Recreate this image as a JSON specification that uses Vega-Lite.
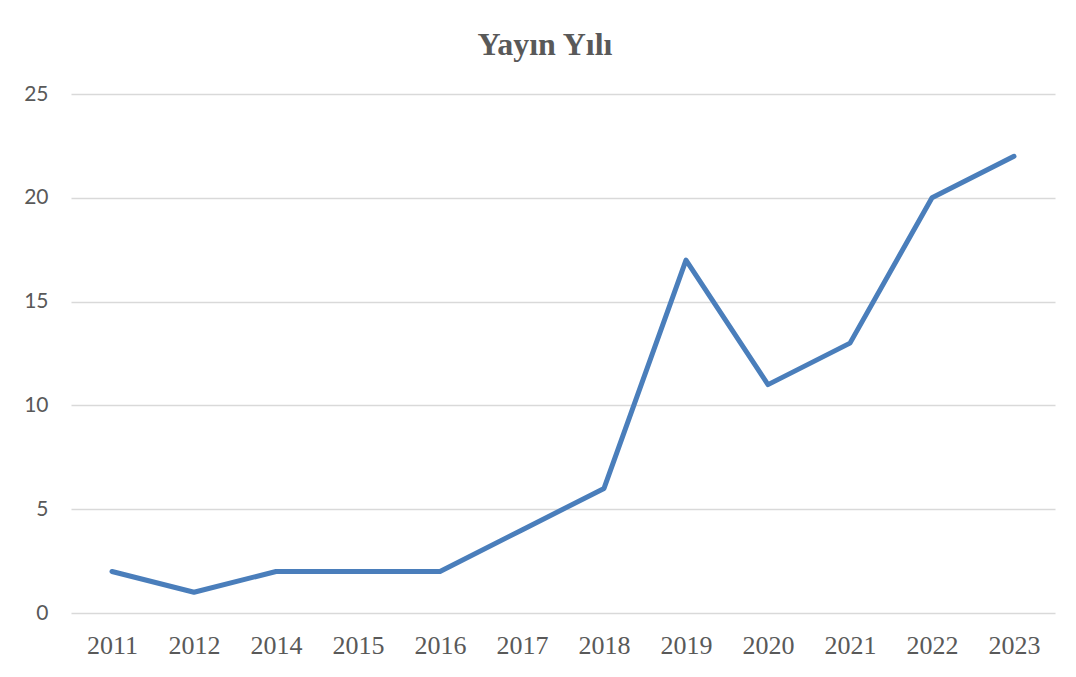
{
  "$schema": "https://vega.github.io/schema/vega-lite/v6.json",
  "autosize": {"type": "none"},
  "width": 984,
  "height": 519,
  "padding": {"left": 71, "top": 94, "right": 21, "bottom": 64},
  "background": "white",
  "title": {
    "text": "Yayın Yılı",
    "font": "Liberation Serif",
    "fontSize": 32,
    "fontWeight": "bold",
    "color": "#595959",
    "anchor": "middle",
    "dx": -18,
    "offset": 21
  },
  "data": {
    "values": [
      {"year": "2011", "count": 2},
      {"year": "2012", "count": 1},
      {"year": "2014", "count": 2},
      {"year": "2015", "count": 2},
      {"year": "2016", "count": 2},
      {"year": "2017", "count": 4},
      {"year": "2018", "count": 6},
      {"year": "2019", "count": 17},
      {"year": "2020", "count": 11},
      {"year": "2021", "count": 13},
      {"year": "2022", "count": 20},
      {"year": "2023", "count": 22}
    ]
  },
  "mark": {"type": "line", "color": "#4A7EBB", "strokeWidth": 5, "strokeCap": "round", "strokeJoin": "round"},
  "encoding": {
    "x": {
      "field": "year",
      "type": "ordinal",
      "sort": null,
      "scale": {"type": "point", "padding": 0.5},
      "axis": {
        "title": null,
        "labelAngle": 0,
        "domain": false,
        "ticks": false,
        "grid": false,
        "labelFont": "Liberation Serif",
        "labelFontSize": 26,
        "labelColor": "#595959",
        "labelPadding": 19
      }
    },
    "y": {
      "field": "count",
      "type": "quantitative",
      "scale": {"domain": [0, 25], "nice": false},
      "axis": {
        "title": null,
        "values": [0, 5, 10, 15, 20, 25],
        "domain": false,
        "ticks": false,
        "grid": true,
        "gridColor": "#D9D9D9",
        "gridWidth": 1.5,
        "labelFont": "Lato",
        "labelFontSize": 21,
        "labelColor": "#595959",
        "labelPadding": 23
      }
    }
  },
  "config": {"view": {"stroke": null}}
}
